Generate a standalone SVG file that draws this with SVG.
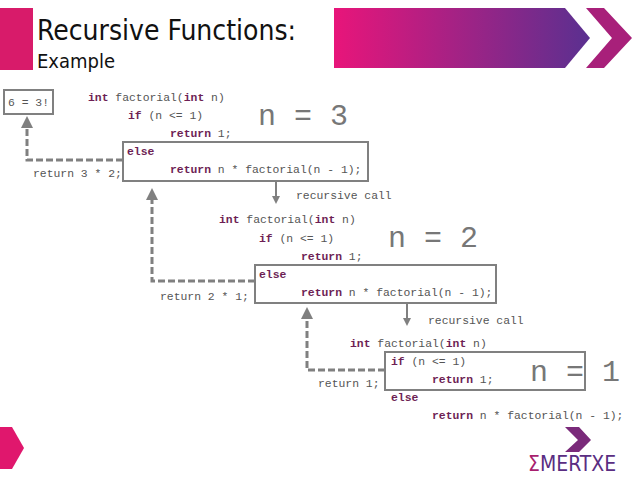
<svg xmlns="http://www.w3.org/2000/svg" width="638" height="479" viewBox="0 0 638 479">
<defs>
<linearGradient id="g" x1="0" x2="1"><stop offset="0" stop-color="#e8157a"/><stop offset="1" stop-color="#5a3090"/></linearGradient>
<marker id="ah" markerWidth="4" markerHeight="4" refX="2" refY="2" orient="auto" markerUnits="strokeWidth"><path d="M0,0 L4,2 L0,4 z" fill="#808080"/></marker>
<style>
.c{font-family:"Liberation Mono",monospace;font-size:11.4px;fill:#555}
.k{font-weight:bold;fill:#6e1f55}
.big{font-family:"Liberation Mono",monospace;font-size:30px;fill:#777}
.box{fill:none;stroke:#808080;stroke-width:2}
.d{fill:none;stroke:#808080;stroke-width:3;stroke-dasharray:7,3}
.s{fill:none;stroke:#808080;stroke-width:2}
</style>
</defs>
<rect x="0" y="8" width="33" height="62" fill="#d81b6a"/>
<text x="37" y="40" font-family="'DejaVu Sans Condensed','Liberation Sans',sans-serif" font-size="28" fill="#111">Recursive Functions:</text>
<text x="37" y="68" font-family="'DejaVu Sans Condensed','Liberation Sans',sans-serif" font-size="20" fill="#111">Example</text>
<path d="M334,8 H565 L590,38 L565,68 H334 Z" fill="url(#g)"/>
<path d="M586,8 H604 L632,38 L604,68 H586 L612,38 Z" fill="#a8207a"/>
<path d="M0,427 H12 L24,448 L12,469 H0 Z" fill="#e0176d"/>
<path d="M565,427 L579,427 L591,440 L579,452 L565,452 L578,440 Z" fill="#7a2a7a"/>
<text x="528" y="471" font-family="'DejaVu Sans Condensed','Liberation Sans',sans-serif" font-size="21" fill="#5a2d82"><tspan fill="#a81f6e">Σ</tspan>MERTXE</text>

<g id="connectors">
<path class="d" d="M123,160 H27 V122" marker-end="url(#ah)"/>
<path class="d" d="M255,281 H152 V194" marker-end="url(#ah)"/>
<path class="d" d="M385,370 H307 V313" marker-end="url(#ah)"/>
<path class="s" d="M276,182 V200" marker-end="url(#ah)"/>
<path class="s" d="M407,303 V322" marker-end="url(#ah)"/>
<text class="c" x="33" y="177">return 3 * 2;</text>
<text class="c" x="160" y="300">return 2 * 1;</text>
<text class="c" x="318" y="387">return 1;</text>
<text class="c" x="296" y="199">recursive call</text>
<text class="c" x="428" y="324">recursive call</text>
</g>

<g id="result">
<rect class="box" x="4" y="90" width="49" height="24"/>
<text class="c" x="8" y="106">6 = 3!</text>
</g>

<g id="call3">
<text class="c" x="88" y="101"><tspan class="k">int</tspan> factorial(<tspan class="k">int</tspan> n)</text>
<text class="c" x="128" y="119"><tspan class="k">if</tspan> (n &lt;= 1)</text>
<text class="c" x="170" y="137"><tspan class="k">return</tspan> 1;</text>
<rect class="box" x="123" y="142" width="245" height="39"/>
<text class="c" x="127" y="155"><tspan class="k">else</tspan></text>
<text class="c" x="170" y="173"><tspan class="k">return</tspan> n * factorial(n - 1);</text>
<text class="big" x="258" y="125">n = 3</text>
</g>

<g id="call2">
<text class="c" x="219" y="223"><tspan class="k">int</tspan> factorial(<tspan class="k">int</tspan> n)</text>
<text class="c" x="259" y="242"><tspan class="k">if</tspan> (n &lt;= 1)</text>
<text class="c" x="301" y="260"><tspan class="k">return</tspan> 1;</text>
<rect class="box" x="255" y="265" width="241" height="38"/>
<text class="c" x="259" y="278"><tspan class="k">else</tspan></text>
<text class="c" x="301" y="296"><tspan class="k">return</tspan> n * factorial(n - 1);</text>
<text class="big" x="388" y="247">n = 2</text>
</g>

<g id="call1">
<text class="c" x="350" y="347"><tspan class="k">int</tspan> factorial(<tspan class="k">int</tspan> n)</text>
<rect class="box" x="385" y="352" width="200" height="38"/>
<text class="c" x="391" y="365"><tspan class="k">if</tspan> (n &lt;= 1)</text>
<text class="c" x="432" y="383"><tspan class="k">return</tspan> 1;</text>
<text class="c" x="391" y="401"><tspan class="k">else</tspan></text>
<text class="c" x="432" y="419"><tspan class="k">return</tspan> n * factorial(n - 1);</text>
<text class="big" x="530" y="381">n = 1</text>
</g>
</svg>
